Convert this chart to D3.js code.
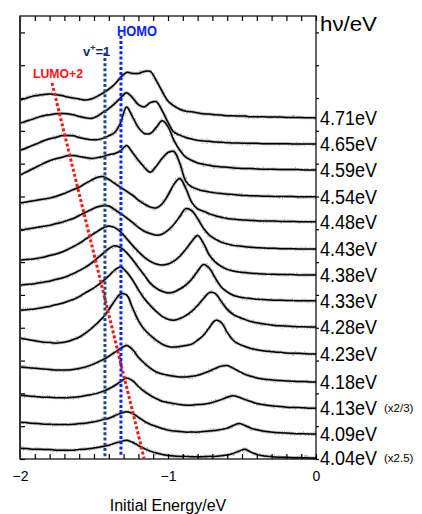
<!DOCTYPE html>
<html>
<head>
<meta charset="utf-8">
<script src="https://cdn.jsdelivr.net/npm/d3@7"></script>
<style>
  body { margin: 0; background: #fff; }
  svg { display: block; font-family: "Liberation Sans", Arial, sans-serif; }
</style>
</head>
<body>
<svg id="chart"></svg>
<script>
// photon energies, one spectrum each, bottom to top
const photonEnergies = ['4.04', '4.09', '4.13', '4.18', '4.23', '4.28', '4.33', '4.38', '4.43', '4.48', '4.54', '4.59', '4.65', '4.71'];
// scaling notes printed after some labels
const scaleNotes = ['(x2.5)', '', '(x2/3)', '', '', '', '', '', '', '', '', '', '', ''];
// vertical offset of each spectrum (a.u.)
const offsets = [0.3, 7.6, 15.5, 23.5, 32.0, 40.2, 48.2, 56.1, 64.0, 72.3, 79.9, 88.1, 96.0, 104.0];

// initial energy grid (eV)
const energyGrid = [-2.00, -1.96, -1.92, -1.88, -1.84, -1.80, -1.76, -1.72, -1.68, -1.64,
  -1.60, -1.56, -1.52, -1.48, -1.44, -1.40, -1.36, -1.32, -1.28, -1.24,
  -1.20, -1.16, -1.12, -1.08, -1.04, -1.00, -0.96, -0.92, -0.88, -0.84,
  -0.80, -0.76, -0.72, -0.68, -0.64, -0.60, -0.56, -0.52, -0.48, -0.44,
  -0.40, -0.36, -0.32, -0.28, -0.24, -0.20, -0.16, -0.12, -0.08, -0.04, 0.00];

// intensities (a.u.) above each spectrum's offset
const s404 = [3.0, 2.9, 2.7, 2.7, 2.6, 2.6, 2.4, 2.4, 2.4, 2.4, 2.6, 2.7, 2.9, 3.2, 3.5, 3.9, 4.5, 5.0, 5.4, 4.8, 3.8, 2.9, 2.1, 1.5, 1.1, 0.8, 0.6, 0.5, 0.5, 0.4, 0.4, 0.4, 0.5, 0.5, 0.7, 0.9, 1.4, 2.1, 2.7, 1.8, 1.1, 0.7, 0.5, 0.3, 0.2, 0.2, 0.1, 0.1, 0.1, 0, 0];
const s409 = [3.6, 3.5, 3.3, 3.2, 3.0, 3.0, 2.9, 2.9, 2.9, 3.0, 3.2, 3.3, 3.6, 3.9, 4.4, 4.8, 5.6, 6.3, 6.8, 6.3, 5.1, 3.9, 3.0, 2.3, 1.7, 1.2, 0.9, 0.8, 0.6, 0.6, 0.6, 0.8, 0.9, 1.1, 1.4, 1.8, 2.6, 3.2, 2.6, 1.8, 1.3, 0.9, 0.7, 0.5, 0.4, 0.3, 0.2, 0.1, 0.1, 0, 0];
const s413 = [3.9, 3.8, 3.6, 3.5, 3.3, 3.3, 3.2, 3.2, 3.2, 3.3, 3.5, 3.8, 4.1, 4.5, 5.1, 5.9, 6.9, 8.1, 9.2, 8.4, 6.6, 5.1, 3.9, 2.9, 2.1, 1.7, 1.4, 1.1, 0.9, 0.9, 1.1, 1.2, 1.5, 2.0, 2.6, 3.3, 3.8, 3.3, 2.6, 2.0, 1.4, 1.1, 0.8, 0.6, 0.5, 0.3, 0.2, 0.2, 0.1, 0, 0];
const s418 = [4.5, 4.4, 4.2, 4.1, 3.9, 3.8, 3.6, 3.6, 3.6, 3.8, 4.1, 4.5, 5.1, 5.9, 6.8, 7.8, 9.0, 10.2, 11.1, 9.9, 7.5, 5.7, 4.2, 3.0, 2.4, 2.0, 1.7, 1.5, 1.5, 1.7, 2.0, 2.6, 3.3, 4.1, 4.8, 5.0, 4.2, 3.2, 2.3, 1.7, 1.2, 0.9, 0.7, 0.5, 0.4, 0.3, 0.2, 0.1, 0.1, 0, 0];
const s423 = [4.8, 4.5, 4.2, 3.9, 3.6, 3.5, 3.3, 3.5, 3.8, 4.4, 5.1, 6.3, 7.7, 9.3, 11.1, 13.5, 16.2, 18.3, 18.0, 14.1, 10.2, 7.5, 5.7, 4.2, 3.0, 2.3, 2.1, 2.3, 2.6, 3.0, 4.2, 5.7, 8.1, 10.2, 9.6, 6.6, 4.2, 3.0, 2.3, 1.7, 1.3, 1.0, 0.8, 0.6, 0.5, 0.3, 0.2, 0.2, 0.1, 0, 0];
const s428 = [5.1, 5.3, 5.4, 5.7, 6.0, 6.3, 6.8, 7.2, 7.8, 8.4, 9.3, 10.4, 11.4, 12.6, 14.0, 15.6, 17.4, 18.3, 16.8, 14.4, 11.4, 8.7, 6.6, 4.8, 3.3, 2.4, 2.1, 2.6, 3.5, 4.8, 6.6, 8.7, 10.5, 10.2, 7.8, 5.4, 3.9, 3.0, 2.3, 1.7, 1.3, 1.0, 0.8, 0.5, 0.4, 0.3, 0.2, 0.1, 0.1, 0, 0];
const s433 = [4.8, 5.0, 5.1, 5.4, 5.7, 6.0, 6.5, 6.9, 7.5, 8.3, 9.2, 10.2, 11.4, 12.9, 14.4, 15.9, 16.8, 16.2, 14.7, 12.6, 10.2, 7.8, 5.4, 3.9, 2.9, 2.4, 2.7, 3.6, 4.8, 6.6, 9.0, 11.1, 9.9, 6.9, 4.2, 2.7, 1.7, 1.2, 0.9, 0.7, 0.5, 0.4, 0.3, 0.2, 0.2, 0.1, 0.1, 0, 0, 0, 0];
const s438 = [4.5, 4.7, 4.8, 5.1, 5.4, 5.9, 6.3, 6.9, 7.7, 8.6, 9.6, 10.8, 12.0, 13.2, 14.3, 14.9, 14.4, 13.1, 11.1, 9.0, 7.1, 5.4, 4.1, 3.3, 3.0, 3.3, 4.2, 5.7, 7.8, 10.2, 12.0, 9.6, 6.0, 3.9, 2.6, 1.7, 1.2, 0.9, 0.7, 0.5, 0.4, 0.3, 0.2, 0.2, 0.1, 0.1, 0.1, 0, 0, 0, 0];
const s443 = [5.7, 6.0, 6.3, 6.6, 6.9, 7.2, 7.7, 8.1, 8.7, 9.3, 10.2, 11.1, 12.0, 12.8, 13.2, 13.1, 12.0, 10.8, 9.5, 8.1, 6.6, 5.4, 4.7, 4.2, 4.5, 5.7, 7.5, 9.9, 12.3, 11.7, 9.3, 6.3, 4.2, 3.0, 2.1, 1.5, 1.1, 0.9, 0.7, 0.5, 0.4, 0.3, 0.2, 0.2, 0.1, 0.1, 0.1, 0, 0, 0, 0];
const s448 = [5.7, 6.0, 6.3, 6.6, 6.9, 7.2, 7.7, 8.3, 9.0, 9.8, 10.5, 11.6, 12.6, 13.5, 13.8, 12.9, 11.7, 10.5, 9.3, 8.1, 6.6, 5.4, 4.5, 4.2, 5.4, 8.1, 11.4, 13.2, 10.2, 6.0, 3.9, 3.2, 2.4, 1.8, 1.4, 1.0, 0.8, 0.6, 0.5, 0.4, 0.3, 0.2, 0.2, 0.2, 0.1, 0.1, 0.1, 0, 0, 0, 0];
const s454 = [6.6, 7.5, 8.4, 9.3, 10.2, 11.0, 11.6, 12.0, 12.5, 12.6, 12.3, 12.0, 11.7, 11.9, 12.3, 12.8, 13.2, 14.1, 15.6, 13.5, 11.1, 9.0, 7.5, 9.3, 11.7, 13.5, 13.8, 10.2, 4.8, 3.0, 2.3, 1.8, 1.5, 1.2, 1.0, 0.8, 0.7, 0.5, 0.4, 0.3, 0.3, 0.2, 0.2, 0.1, 0.1, 0.1, 0.1, 0, 0, 0, 0];
const s459 = [6.0, 6.6, 7.4, 8.1, 8.9, 9.5, 9.9, 10.4, 10.5, 10.4, 9.9, 9.5, 9.2, 9.2, 9.6, 10.4, 11.4, 14.4, 19.2, 16.2, 12.9, 11.1, 11.1, 12.9, 15.0, 13.2, 9.0, 6.0, 3.9, 2.9, 2.1, 1.7, 1.4, 1.1, 0.9, 0.8, 0.6, 0.5, 0.4, 0.4, 0.3, 0.2, 0.2, 0.2, 0.1, 0.1, 0.1, 0.1, 0, 0, 0];
const s465 = [6.3, 6.9, 7.5, 8.1, 8.6, 8.9, 9.2, 9.3, 9.2, 8.9, 8.4, 8.0, 7.8, 8.4, 9.6, 10.8, 12.3, 14.1, 15.6, 14.1, 12.0, 11.3, 12.6, 12.9, 10.2, 6.6, 3.6, 2.7, 2.0, 1.5, 1.1, 0.9, 0.8, 0.6, 0.5, 0.4, 0.3, 0.3, 0.2, 0.2, 0.2, 0.1, 0.1, 0.1, 0.1, 0.1, 0, 0, 0, 0, 0];
const s471 = [5.4, 5.9, 6.5, 6.8, 7.1, 7.2, 7.1, 6.8, 6.3, 6.0, 5.7, 5.4, 5.7, 6.5, 7.5, 8.7, 10.2, 12.3, 13.8, 13.5, 13.5, 14.1, 14.1, 11.4, 8.1, 5.1, 3.6, 2.6, 2.0, 1.8, 1.5, 1.2, 1.1, 0.9, 0.8, 0.6, 0.6, 0.5, 0.5, 0.3, 0.3, 0.3, 0.2, 0.2, 0.2, 0.1, 0.1, 0.1, 0, 0, 0];
const spectra = [s404, s409, s413, s418, s423, s428, s433, s438, s443, s448, s454, s459, s465, s471];

// guide lines: [energy, a.u.] at top and bottom
const guides = [
  {name: 'LUMO+2', color: '#ff1414', top: [-1.784, 114.6], bottom: [-1.162, 0.3]},
  {name: 'v+=1', color: '#1f4b78', top: [-1.426, 123.8], bottom: [-1.426, 0.3]},
  {name: 'HOMO', color: '#0a22ff', top: [-1.318, 129.0], bottom: [-1.318, 0.9]}
];

const w = 422, h = 514;
const svg = d3.select('#chart').attr('width', w).attr('height', h);

// rough edge for the grey fuzz around each trace
const fuzz = svg.append('defs').append('filter').attr('id', 'fuzz')
  .attr('x', '-5%').attr('y', '-20%').attr('width', '110%').attr('height', '140%');
fuzz.append('feTurbulence').attr('type', 'fractalNoise').attr('baseFrequency', '0.9 0.6')
  .attr('numOctaves', 1).attr('seed', 3).attr('result', 'n');
fuzz.append('feDisplacementMap').attr('in', 'SourceGraphic').attr('in2', 'n')
  .attr('scale', 3).attr('xChannelSelector', 'R').attr('yChannelSelector', 'G');

const x = d3.scaleLinear().domain([-2, 0]).range([20, 316]);
const y = d3.scaleLinear().domain([0, 135]).range([459, 16]);

// spectra
const line = (off) => d3.line()
  .x((d, i) => x(energyGrid[i]))
  .y(d => y(d + off))
  .curve(d3.curveCatmullRom.alpha(0.5));

const traces = svg.append('g');
spectra.forEach((s, k) => {
  traces.append('path').attr('d', line(offsets[k])(s))
    .attr('fill', 'none').attr('stroke', '#7a7a7a').attr('stroke-width', 3.2)
    .attr('stroke-opacity', 0.55).attr('stroke-linejoin', 'round')
    .attr('filter', 'url(#fuzz)');
  traces.append('path').attr('d', line(offsets[k])(s))
    .attr('fill', 'none').attr('stroke', '#000').attr('stroke-width', 1.5)
    .attr('stroke-linejoin', 'round');
});

// dotted guide lines
svg.append('g').selectAll('line').data(guides).join('line')
  .attr('x1', d => x(d.top[0])).attr('y1', d => y(d.top[1]))
  .attr('x2', d => x(d.bottom[0])).attr('y2', d => y(d.bottom[1]))
  .attr('stroke', d => d.color).attr('stroke-width', 3)
  .attr('stroke-dasharray', '3 2.2');

// guide labels
const g0 = guides[0], g1 = guides[1], g2 = guides[2];
svg.append('text').attr('x', x(g0.top[0]) + 6).attr('y', y(g0.top[1]) - 5)
  .attr('text-anchor', 'middle').attr('font-weight', 'bold').attr('font-size', 13)
  .attr('fill', g0.color).attr('textLength', 50).attr('lengthAdjust', 'spacingAndGlyphs')
  .text(g0.name);
const vt = svg.append('text').attr('x', x(g1.top[0]) - 22).attr('y', y(g1.top[1]) + 3)
  .attr('font-weight', 'bold').attr('font-size', 13).attr('fill', '#1a2a78');
vt.append('tspan').text('v');
vt.append('tspan').attr('dy', -5).attr('font-size', 9).text('+');
vt.append('tspan').attr('dy', 5).text('=1');
svg.append('text').attr('x', x(g2.top[0]) - 4).attr('y', y(g2.top[1]))
  .attr('font-weight', 'bold').attr('font-size', 14).attr('fill', g2.color)
  .attr('textLength', 40).attr('lengthAdjust', 'spacingAndGlyphs')
  .text(g2.name);

// axes: ticks all round, labels only at bottom
const xTicks = d3.range(-20, 1).map(v => v / 10);
const yTicks = d3.range(0, 135, 10);
svg.append('g').attr('transform', 'translate(0,459)')
  .call(d3.axisBottom(x).tickValues(xTicks).tickSize(-5).tickFormat(''));
svg.append('g').attr('transform', 'translate(0,16)')
  .call(d3.axisTop(x).tickValues(xTicks).tickSize(-5).tickFormat(''));
svg.append('g').attr('transform', 'translate(20,0)')
  .call(d3.axisLeft(y).tickValues(yTicks).tickSize(-5).tickFormat(''));
svg.append('g').attr('transform', 'translate(316,0)')
  .call(d3.axisRight(y).tickValues(yTicks).tickSize(3).tickFormat(''));
svg.append('g').attr('transform', 'translate(0,459)')
  .call(d3.axisBottom(x).tickValues([-2, -1, 0]).tickSize(0).tickPadding(12).tickFormat(d3.format('d')))
  .selectAll('text').attr('font-size', 14).attr('font-family', '"Liberation Sans", Arial, sans-serif');
svg.selectAll('.domain').remove();
svg.selectAll('.tick line').attr('stroke', '#000').attr('stroke-width', 1.2);

// frame
svg.append('rect').attr('x', x(-2)).attr('y', y(135)).attr('width', x(0) - x(-2)).attr('height', y(0) - y(135))
  .attr('fill', 'none').attr('stroke', '#000').attr('stroke-width', 1.2);
svg.append('line').attr('x1', x(-2)).attr('x2', x(-2)).attr('y1', y(135)).attr('y2', y(0))
  .attr('stroke', '#333').attr('stroke-width', 2);

// photon energy labels on the right
svg.append('g').selectAll('text').data(photonEnergies).join('text')
  .attr('x', 320).attr('y', (d, i) => y(offsets[i])).attr('dy', '0.36em')
  .attr('font-size', 20).attr('textLength', 57).attr('lengthAdjust', 'spacingAndGlyphs')
  .text(d => d + 'eV');
svg.append('g').selectAll('text').data(scaleNotes).join('text')
  .attr('x', 384).attr('y', (d, i) => y(offsets[i])).attr('dy', '0.36em')
  .attr('font-size', 11.5).text(d => d);
svg.append('text').attr('x', 320).attr('y', 31)
  .attr('font-size', 20).attr('textLength', 57).attr('lengthAdjust', 'spacingAndGlyphs')
  .text('hν/eV');

// axis title
svg.append('text').attr('x', x(-1)).attr('y', 511).attr('text-anchor', 'middle')
  .attr('font-size', 16).text('Initial Energy/eV');
</script>
</body>
</html>
